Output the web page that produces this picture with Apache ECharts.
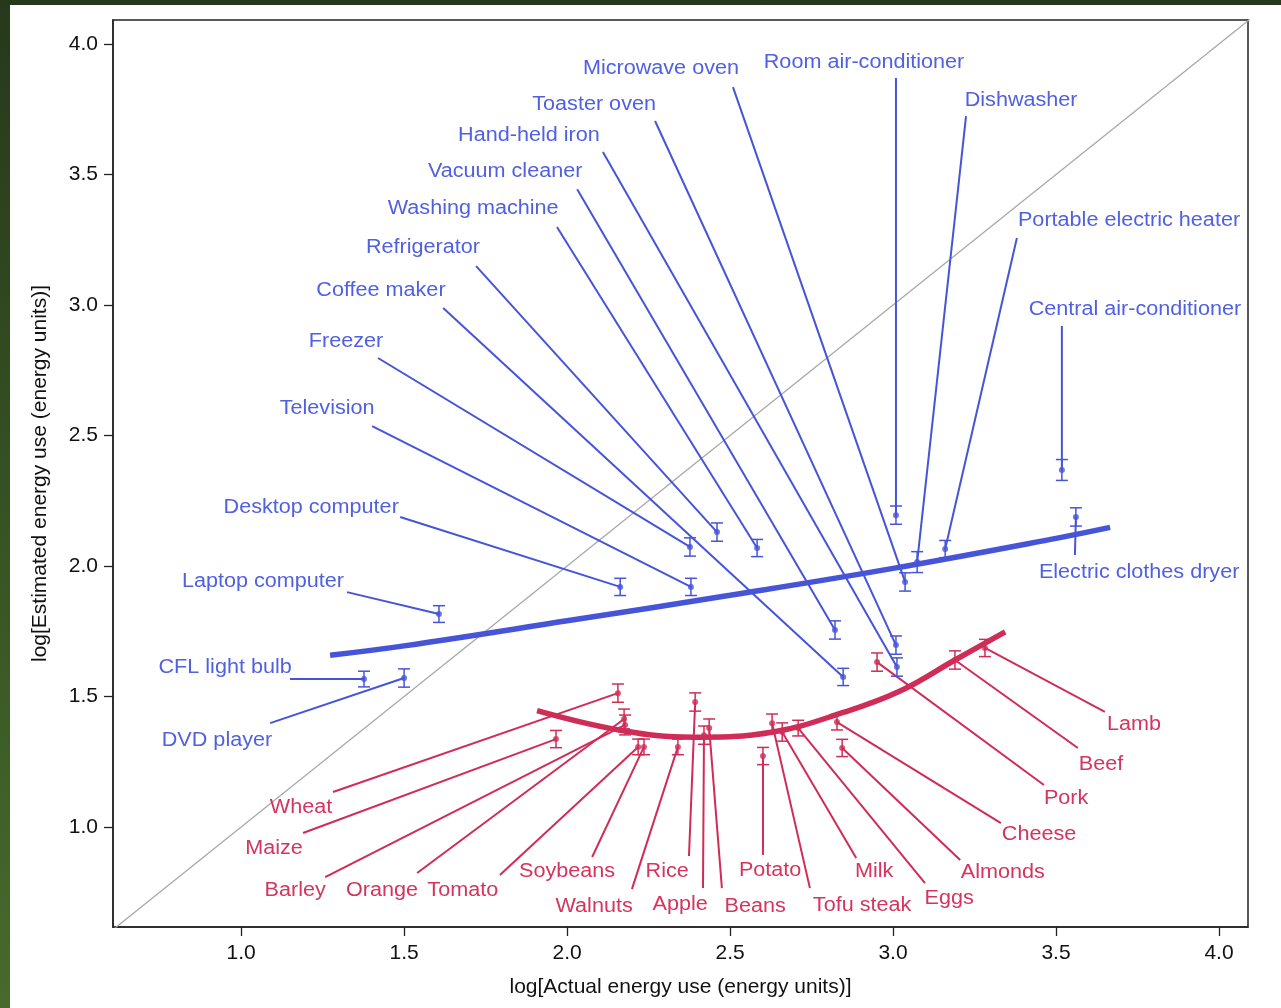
<!DOCTYPE html>
<html>
<head>
<meta charset="utf-8">
<script src="https://cdn.jsdelivr.net/npm/echarts@6/dist/echarts.min.js"></script>
<style>
  html, body { margin: 0; padding: 0; width: 1281px; height: 1008px; overflow: hidden;
    background: linear-gradient(#26391a, #466b2d); }
  #chart { position: absolute; left: 10px; top: 5px; width: 1271px; height: 1003px; background: #ffffff; }
</style>
</head>
<body>
<div id="chart"></div>
<script>
// Axis tick values (log units)
const ticks = [1.0, 1.5, 2.0, 2.5, 3.0, 3.5, 4.0];

// Household appliances: actual vs. estimated energy use (log units)
const applianceNames = ['CFL light bulb', 'DVD player', 'Laptop computer', 'Desktop computer', 'Television',
  'Freezer', 'Coffee maker', 'Refrigerator', 'Washing machine', 'Vacuum cleaner', 'Hand-held iron',
  'Toaster oven', 'Microwave oven', 'Room air-conditioner', 'Dishwasher', 'Portable electric heater',
  'Central air-conditioner', 'Electric clothes dryer'];
const applianceActual = [1.377, 1.500, 1.607, 2.163, 2.380, 2.377, 2.847, 2.460, 2.583, 2.822, 3.012,
  3.009, 3.037, 3.009, 3.074, 3.160, 3.518, 3.561];
const applianceEstimated = [1.567, 1.571, 1.816, 1.920, 1.920, 2.073, 1.575, 2.130, 2.069, 1.755, 1.613,
  1.697, 1.939, 2.195, 2.015, 2.065, 2.368, 2.188];
const applianceError = [0.030, 0.035, 0.032, 0.033, 0.033, 0.035, 0.033, 0.035, 0.033, 0.035, 0.035,
  0.035, 0.035, 0.035, 0.040, 0.033, 0.040, 0.035];

// Foods: actual vs. estimated energy use (log units)
const foodNames = ['Wheat', 'Maize', 'Barley', 'Orange', 'Tomato', 'Soybeans', 'Walnuts', 'Rice', 'Apple',
  'Beans', 'Potato', 'Tofu steak', 'Milk', 'Eggs', 'Cheese', 'Almonds', 'Pork', 'Beef', 'Lamb'];
const foodActual = [2.156, 1.966, 2.178, 2.175, 2.218, 2.236, 2.340, 2.393, 2.420, 2.436, 2.601, 2.629,
  2.660, 2.709, 2.828, 2.844, 2.951, 3.190, 3.282];
const foodEstimated = [1.513, 1.337, 1.391, 1.414, 1.307, 1.307, 1.307, 1.479, 1.352, 1.379, 1.272, 1.398,
  1.364, 1.379, 1.402, 1.303, 1.632, 1.640, 1.686];
const foodError = [0.035, 0.033, 0.038, 0.038, 0.030, 0.030, 0.030, 0.035, 0.035, 0.035, 0.033, 0.035,
  0.035, 0.030, 0.030, 0.033, 0.035, 0.035, 0.033];

// Fitted trend curves
const applianceFitX = [1.273, 1.5, 2.0, 2.5, 3.0, 3.5, 3.666];
const applianceFitY = [1.658, 1.694, 1.790, 1.888, 1.991, 2.106, 2.148];
const foodFitX = [1.908, 2.163, 2.387, 2.632, 2.850, 3.020, 3.190, 3.344];
const foodFitY = [1.446, 1.371, 1.344, 1.364, 1.440, 1.520, 1.640, 1.748];

// Label placement (centre of each text) and leader-line start, in axis units
const applianceLabelAt = [[0.951, 1.613], [0.926, 1.333], [1.067, 1.939], [1.215, 2.226], [1.264, 2.602],
  [1.322, 2.862], [1.429, 3.054], [1.558, 3.222], [1.712, 3.368], [1.810, 3.513], [1.883, 3.648],
  [2.083, 3.770], [2.288, 3.908], [2.911, 3.931], [3.393, 3.785], [3.724, 3.322], [3.742, 2.981],
  [3.755, 1.977]];
const applianceLeaderFrom = [[1.150, 1.567], [1.089, 1.398], [1.325, 1.900], [1.488, 2.188], [1.402, 2.536],
  [1.420, 2.797], [1.620, 2.989], [1.721, 3.149], [1.969, 3.299], [2.031, 3.444], [2.110, 3.586],
  [2.270, 3.705], [2.509, 3.835], [3.009, 3.870], [3.224, 3.724], [3.380, 3.257], [3.518, 2.920],
  [3.558, 2.042]];
const foodLabelAt = [[1.184, 1.073], [1.101, 0.916], [1.166, 0.755], [1.432, 0.757], [1.680, 0.757],
  [2.000, 0.828], [2.083, 0.697], [2.307, 0.828], [2.347, 0.705], [2.577, 0.697], [2.623, 0.835],
  [2.905, 0.701], [2.942, 0.828], [3.172, 0.728], [3.448, 0.973], [3.337, 0.824], [3.531, 1.111],
  [3.638, 1.241], [3.739, 1.391]];
const foodLeaderFrom = [[1.282, 1.134], [1.190, 0.977], [1.258, 0.808], [1.540, 0.824], [1.794, 0.816],
  [2.077, 0.885], [2.199, 0.762], [2.374, 0.889], [2.417, 0.766], [2.475, 0.766], [2.601, 0.893],
  [2.745, 0.766], [2.887, 0.881], [3.098, 0.785], [3.331, 1.015], [3.206, 0.874], [3.463, 1.161],
  [3.567, 1.303], [3.650, 1.441]];

const BLUE_LINE = '#4654d8', BLUE_TEXT = '#5060e2';
const RED_LINE = '#cf2d58', RED_TEXT = '#d4345e';
const FONT = '"Liberation Sans", Arial, Helvetica, sans-serif';

function leaderSeries(from, xs, ys, color) {
  return {
    type: 'custom', silent: true, z: 2, clip: false,
    data: from.map((f, i) => [f[0], f[1], xs[i], ys[i]]),
    encode: { x: [0, 2], y: [1, 3] },
    renderItem(params, api) {
      const a = api.coord([api.value(0), api.value(1)]);
      const b = api.coord([api.value(2), api.value(3)]);
      return { type: 'line', shape: { x1: a[0], y1: a[1], x2: b[0], y2: b[1] },
        style: { stroke: color, lineWidth: 2 } };
    }
  };
}

function errorSeries(xs, ys, errs, color) {
  return {
    type: 'custom', silent: true, z: 5,
    data: xs.map((x, i) => [x, ys[i], errs[i]]),
    encode: { x: 0, y: 1 },
    renderItem(params, api) {
      const x = api.value(0), y = api.value(1), e = api.value(2);
      const hi = api.coord([x, y + e]), lo = api.coord([x, y - e]);
      const w = 6, st = { stroke: color, lineWidth: 1.5 };
      return { type: 'group', children: [
        { type: 'line', shape: { x1: hi[0], y1: hi[1], x2: lo[0], y2: lo[1] }, style: st },
        { type: 'line', shape: { x1: hi[0] - w, y1: hi[1], x2: hi[0] + w, y2: hi[1] }, style: st },
        { type: 'line', shape: { x1: lo[0] - w, y1: lo[1], x2: lo[0] + w, y2: lo[1] }, style: st }
      ] };
    }
  };
}

function labelSeries(pos, names, color) {
  return {
    type: 'custom', silent: true, z: 8, clip: false,
    data: pos.map(p => [p[0], p[1]]),
    encode: { x: 0, y: 1 },
    renderItem(params, api) {
      const p = api.coord([api.value(0), api.value(1)]);
      return { type: 'text', x: p[0], y: p[1], scaleX: 1.08,
        style: { text: names[params.dataIndex], fill: color, fontSize: 20, fontFamily: FONT,
          align: 'center', verticalAlign: 'middle' } };
    }
  };
}

function pointSeries(xs, ys, color) {
  return { type: 'scatter', z: 6, symbol: 'circle', symbolSize: 6, silent: true,
    itemStyle: { color: color }, data: xs.map((x, i) => [x, ys[i]]) };
}

function fitSeries(xs, ys, color) {
  return { type: 'line', z: 4, smooth: 0.4, showSymbol: false, silent: true,
    lineStyle: { color: color, width: 5.5 }, data: xs.map((x, i) => [x, ys[i]]) };
}

const axisCommon = {
  type: 'value',
  nameLocation: 'middle',
  nameTextStyle: { fontSize: 21, color: '#111', fontFamily: FONT },
  axisLine: { show: true, lineStyle: { color: '#222', width: 1.5 } },
  axisTick: { show: true, length: 9, customValues: ticks, lineStyle: { color: '#222', width: 1.3 } },
  axisLabel: { customValues: ticks, fontSize: 21, color: '#111', fontFamily: FONT,
    formatter: v => v.toFixed(1) },
  splitLine: { show: false }
};

const chart = echarts.init(document.getElementById('chart'));
chart.setOption({
  animation: false,
  backgroundColor: '#ffffff',
  grid: { left: 103, top: 15, right: 33, bottom: 81, show: true, borderColor: '#222', borderWidth: 1.5 },
  xAxis: Object.assign({}, axisCommon, {
    min: 0.607, max: 4.089,
    name: 'log[Actual energy use (energy units)]', nameGap: 50,
    axisLabel: Object.assign({}, axisCommon.axisLabel, { margin: 16 })
  }),
  yAxis: Object.assign({}, axisCommon, {
    min: 0.617, max: 4.092,
    name: 'log[Estimated energy use (energy units)]', nameGap: 62,
    axisLabel: Object.assign({}, axisCommon.axisLabel, { margin: 15 })
  }),
  series: [
    { type: 'line', z: 1, silent: true, showSymbol: false, clip: true,
      lineStyle: { color: '#a8a8a8', width: 1.3 }, data: [[0.6, 0.6], [4.1, 4.1]] },
    leaderSeries(applianceLeaderFrom, applianceActual, applianceEstimated, BLUE_LINE),
    leaderSeries(foodLeaderFrom, foodActual, foodEstimated, RED_LINE),
    fitSeries(applianceFitX, applianceFitY, BLUE_LINE),
    fitSeries(foodFitX, foodFitY, RED_LINE),
    errorSeries(applianceActual, applianceEstimated, applianceError, BLUE_LINE),
    errorSeries(foodActual, foodEstimated, foodError, RED_LINE),
    pointSeries(applianceActual, applianceEstimated, BLUE_LINE),
    pointSeries(foodActual, foodEstimated, RED_LINE),
    labelSeries(applianceLabelAt, applianceNames, BLUE_TEXT),
    labelSeries(foodLabelAt, foodNames, RED_TEXT)
  ]
});
</script>
</body>
</html>
